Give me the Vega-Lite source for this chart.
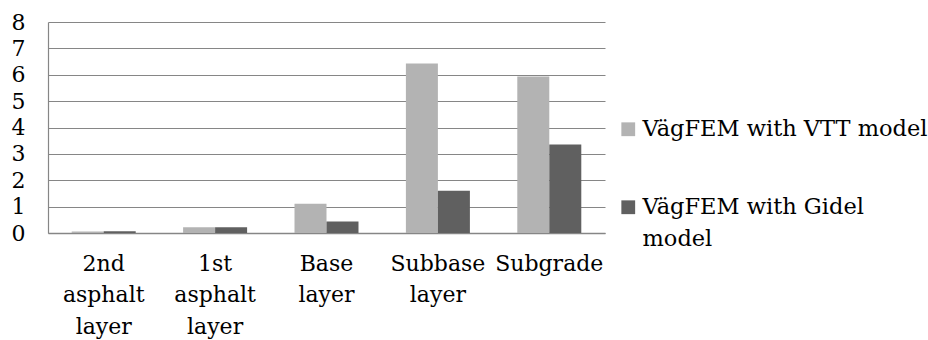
{
  "$schema": "https://vega.github.io/schema/vega-lite/v6.json",
  "width": 557,
  "height": 211,
  "autosize": {"type": "none"},
  "padding": {"left": 48, "top": 22, "right": 323, "bottom": 107},
  "background": "white",
  "config": {
    "view": {"stroke": null},
    "font": "DejaVu Serif"
  },
  "data": {
    "values": [
      {"layer": "2nd asphalt layer", "series": "VägFEM with VTT model", "value": 0.06},
      {"layer": "2nd asphalt layer", "series": "VägFEM with Gidel model", "value": 0.07},
      {"layer": "1st asphalt layer", "series": "VägFEM with VTT model", "value": 0.22},
      {"layer": "1st asphalt layer", "series": "VägFEM with Gidel model", "value": 0.22},
      {"layer": "Base layer", "series": "VägFEM with VTT model", "value": 1.11},
      {"layer": "Base layer", "series": "VägFEM with Gidel model", "value": 0.44},
      {"layer": "Subbase layer", "series": "VägFEM with VTT model", "value": 6.43},
      {"layer": "Subbase layer", "series": "VägFEM with Gidel model", "value": 1.6},
      {"layer": "Subgrade", "series": "VägFEM with VTT model", "value": 5.93},
      {"layer": "Subgrade", "series": "VägFEM with Gidel model", "value": 3.36}
    ]
  },
  "mark": {"type": "bar"},
  "encoding": {
    "x": {
      "field": "layer",
      "type": "nominal",
      "sort": null,
      "scale": {"paddingInner": 0.4255, "paddingOuter": 0.2128},
      "axis": {
        "title": null,
        "labelExpr": "split(datum.label, ' ')",
        "labelAngle": 0,
        "labelFont": "DejaVu Serif",
        "labelFontSize": 22,
        "labelColor": "black",
        "labelLineHeight": 31.5,
        "labelBaseline": "top",
        "labelPadding": 20,
        "labelOverlap": false,
        "labelLimit": 300,
        "ticks": false,
        "grid": false,
        "domainColor": "#868686",
        "domainWidth": 1.5
      }
    },
    "xOffset": {
      "field": "series",
      "type": "nominal",
      "sort": ["VägFEM with VTT model", "VägFEM with Gidel model"],
      "scale": {"paddingInner": 0, "paddingOuter": 0}
    },
    "y": {
      "field": "value",
      "type": "quantitative",
      "scale": {"domain": [0, 8], "nice": false},
      "axis": {
        "title": null,
        "values": [0, 1, 2, 3, 4, 5, 6, 7, 8],
        "grid": true,
        "gridColor": "#868686",
        "gridWidth": 1,
        "ticks": false,
        "domainColor": "#868686",
        "domainWidth": 1.2,
        "labelFont": "DejaVu Serif",
        "labelFontSize": 22,
        "labelColor": "black",
        "labelPadding": 23
      }
    },
    "color": {
      "field": "series",
      "type": "nominal",
      "sort": ["VägFEM with VTT model", "VägFEM with Gidel model"],
      "scale": {
        "domain": ["VägFEM with VTT model", "VägFEM with Gidel model"],
        "range": ["#b3b3b3", "#606060"]
      },
      "legend": {
        "title": null,
        "orient": "none",
        "legendX": 569,
        "legendY": 96,
        "symbolType": "square",
        "symbolSize": 190,
        "symbolStrokeWidth": 0,
        "labelFont": "DejaVu Serif",
        "labelFontSize": 22.5,
        "labelColor": "black",
        "labelLimit": 400,
        "labelOffset": 3,
        "labelBaseline": "alphabetic",
        "rowPadding": 55,
        "labelExpr": "datum.label == 'VägFEM with Gidel model' ? ['VägFEM with Gidel', 'model'] : datum.label",
        "encode": {
          "labels": {"update": {"dy": {"value": 7}, "lineHeight": {"value": 32}}}
        }
      }
    }
  }
}
